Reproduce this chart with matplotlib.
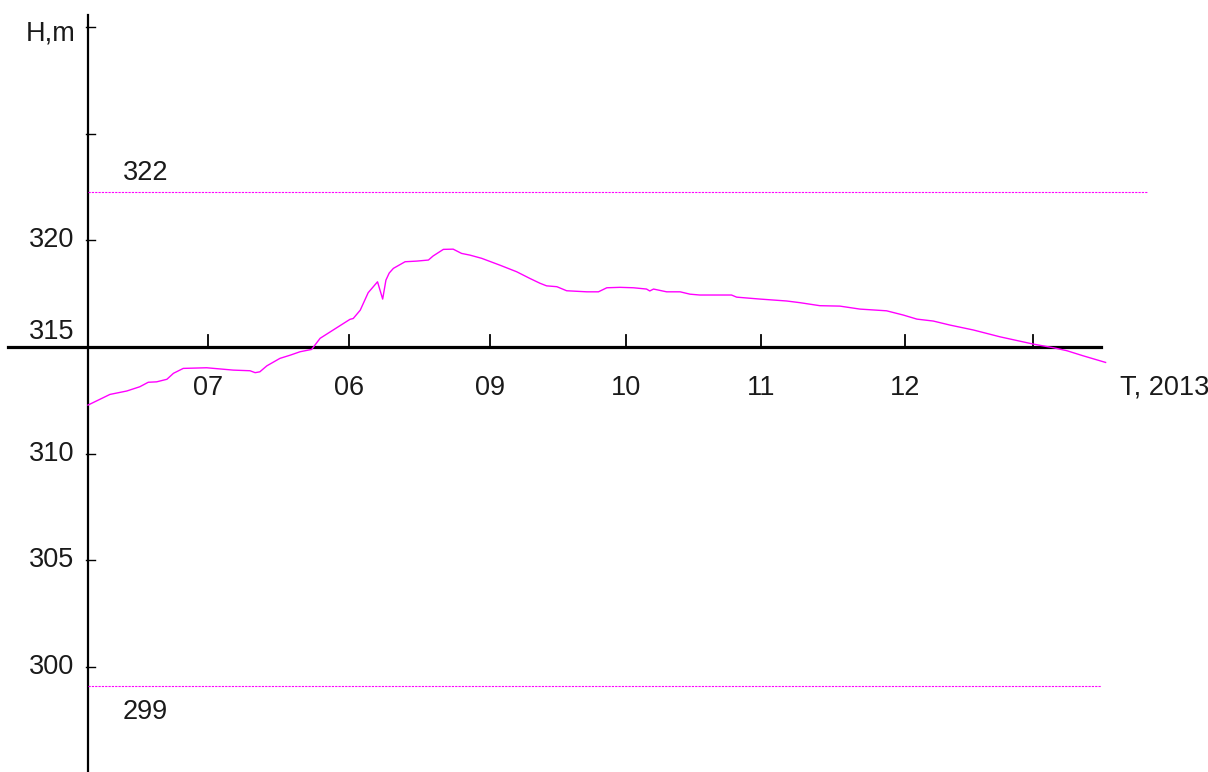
import matplotlib.pyplot as plt

# water level H (m) vs time (days from start of record), 2013
days = [0, 4.7, 8.3, 11.1, 12.9, 14.7, 16.9, 18.3, 20.4, 25.4, 31.1, 34.7, 35.8, 36.8,
        38.3, 41.1, 43.3, 45.4, 47.9, 49.7, 52.5, 56.1, 56.8, 58.3, 60.0, 62.0, 63.1,
        63.8, 64.5, 65.4, 67.9, 70.4, 72.9, 73.9, 76.1, 78.2, 80.0, 81.8, 84.3, 88.2,
        91.8, 94.6, 96.8, 98.2, 100.4, 102.5, 106.8, 109.3, 111.1, 113.9, 116.8, 119.6,
        120.3, 121.1, 123.9, 126.8, 128.9, 131.0, 137.8, 138.9, 143.9, 149.6, 152.5,
        156.7, 161.0, 165.3, 171.0, 174.6, 177.5, 181.0, 184.6, 189.6, 195.3, 202.4,
        206.7, 209.6, 213.1, 217.9]
level = [312.28, 312.78, 312.94, 313.14, 313.35, 313.37, 313.49, 313.77, 314.0, 314.03,
         313.92, 313.89, 313.80, 313.84, 314.12, 314.47, 314.62, 314.78, 314.89, 315.41,
         315.80, 316.30, 316.34, 316.73, 317.55, 318.06, 317.25, 318.14, 318.47, 318.69,
         319.0, 319.03, 319.08, 319.27, 319.58, 319.59, 319.39, 319.31, 319.16, 318.84,
         318.53, 318.22, 317.99, 317.87, 317.83, 317.64, 317.59, 317.59, 317.78, 317.80,
         317.78, 317.72, 317.63, 317.72, 317.59, 317.59, 317.48, 317.44, 317.44, 317.34,
         317.25, 317.16, 317.08, 316.94, 316.92, 316.78, 316.70, 316.50, 316.31, 316.22,
         316.03, 315.80, 315.48, 315.14, 314.97, 314.83, 314.59, 314.28]

# critical levels
crit_levels = [322.25, 299.1]
crit_labels = ['322', '299']
crit_ends = [227.0, 216.9]

x_ticks = [25.7, 55.9, 86.1, 115.3, 144.2, 175.0, 202.3]
x_labels = ['07', '06', '09', '10', '11', '12', '']
y_ticks = [300, 305, 310, 315, 320, 325, 330]
y_labels = ['300', '305', '310', '315', '320', '', '']
base = 315

plt.rcParams['font.family'] = ['Liberation Sans', 'DejaVu Sans']
fs = 19.5
fig = plt.figure(figsize=(12.08, 7.72), dpi=100)
ax = fig.add_axes([0, 0, 1, 1])
ax.set_xlim(-18.84, 239.83)
ax.set_ylim(295.08, 331.27)
ax.axis('off')

# axes lines
ax.plot([0, 0], [295.08, 330.56], color='black', lw=1.6)
ax.plot([-17.1, 216.9], [base, base], color='black', lw=2.3)

for yt, yl in zip(y_ticks, y_labels):
    ax.plot([-0.5, 1.5], [yt, yt], color='black', lw=1)
    if yl:
        off = 0.7 if yt == base else 0
        ax.text(-3.0, yt + off, yl, ha='right', va='center', fontsize=fs, color='#1a1a1a')
ax.text(-2.6, 329.7, 'H,m', ha='right', va='center', fontsize=fs, color='#1a1a1a')

for xt, xl in zip(x_ticks, x_labels):
    ax.plot([xt, xt], [base, base + 0.56], color='black', lw=1.3)
    if xl:
        ax.text(xt, base - 1.9, xl, ha='center', va='center', fontsize=fs, color='#1a1a1a')
ax.text(221.0, base - 1.9, 'T, 2013', ha='left', va='center', fontsize=fs, color='#1a1a1a')

for lv, lb, xe in zip(crit_levels, crit_labels, crit_ends):
    ax.plot([0, xe], [lv, lv], color='#ff00ff', lw=0.8, ls=(0, (2, 1)))
    dy = 0.9 if lv > base else -1.2
    ax.text(7.5, lv + dy, lb, ha='left', va='center', fontsize=fs, color='#1a1a1a')

ax.plot(days, level, color='#ff00ff', lw=1.0)

fig.savefig('out.png', dpi=100)
